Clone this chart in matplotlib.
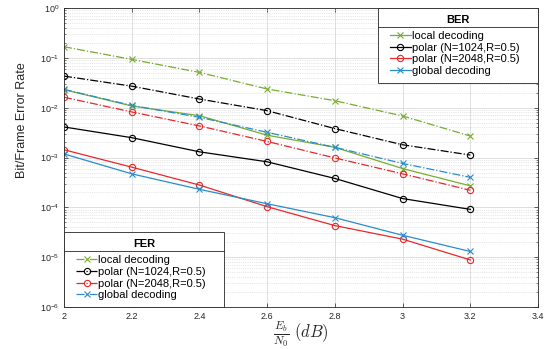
import matplotlib
matplotlib.use("Agg")
import matplotlib.pyplot as plt
from matplotlib.lines import Line2D
from matplotlib.ticker import LogLocator, NullFormatter, FixedLocator, LogFormatterSciNotation
from matplotlib.legend_handler import HandlerLine2D

plt.rcParams['font.family'] = ['Liberation Sans', 'DejaVu Sans']
plt.rcParams['mathtext.fontset'] = 'cm'

ebn0 = [2.0, 2.2, 2.4, 2.6, 2.8, 3.0, 3.2]

# FER (dash-dot)
fer_local = [0.167, 0.093, 0.051, 0.0237, 0.0138, 0.0068, 0.0027]
fer_p1024 = [0.043, 0.027, 0.0149, 0.0087, 0.0038, 0.0018, 0.00112]
fer_p2048 = [0.0162, 0.0082, 0.0043, 0.0021, 0.00098, 0.00047, 0.00022]
fer_global = [0.0233, 0.0111, 0.0064, 0.0032, 0.0016, 0.00076, 0.0004]

# BER (solid)
ber_local = [0.023, 0.0108, 0.0069, 0.0028, 0.0016, 0.0006, 0.00027]
ber_p1024 = [0.0041, 0.0025, 0.0013, 0.00082, 0.00038, 0.00015, 9.1e-5]
ber_p2048 = [0.00143, 0.00064, 0.00028, 0.000103, 4.3e-5, 2.3e-5, 8.8e-6]
ber_global = [0.00118, 0.00047, 0.00023, 0.000118, 6.2e-5, 2.75e-5, 1.3e-5]

labels = ['local decoding', 'polar (N=1024,R=0.5)', 'polar (N=2048,R=0.5)', 'global decoding']
xticks = [2, 2.2, 2.4, 2.6, 2.8, 3, 3.2, 3.4]
xticklabels = ['2', '2.2', '2.4', '2.6', '2.8', '3', '3.2', '3.4']
yticks = [1e-6, 1e-5, 1e-4, 1e-3, 1e-2, 1e-1, 1e0]
colors = ['#77AC30', 'black', '#E8272A', '#2A8CC8']
markers = ['x', 'o', 'o', 'x']

fig = plt.figure(figsize=(5.46, 3.49), dpi=100)
ax = fig.add_axes([64/546, 1-307/349, (538-64)/546, (307-8)/349])

ber_sets = [ber_local, ber_p1024, ber_p2048, ber_global]
fer_sets = [fer_local, fer_p1024, fer_p2048, fer_global]

ber_handles = []
fer_handles = []
for lab, c, m, b, f in zip(labels, colors, markers, ber_sets, fer_sets):
    hb, = ax.semilogy(ebn0, b, color=c, marker=m, linestyle='-', linewidth=0.9,
                      markersize=4.5, markerfacecolor='none', markeredgewidth=0.8, label=lab)
    hf, = ax.semilogy(ebn0, f, color=c, marker=m, linestyle='-.', linewidth=0.9,
                      markersize=4.5, markerfacecolor='none', markeredgewidth=0.8, label=lab)
    ber_handles.append(hb)
    fer_handles.append(hf)

ax.set_xlim(2, 3.4)
ax.set_ylim(1e-6, 1)
ax.xaxis.set_major_locator(FixedLocator(xticks))
ax.set_xticklabels(xticklabels)
ax.yaxis.set_major_locator(FixedLocator(yticks))
ax.yaxis.set_major_formatter(LogFormatterSciNotation())
ax.yaxis.set_minor_locator(LogLocator(base=10, subs=range(2, 10), numticks=20))
ax.yaxis.set_minor_formatter(NullFormatter())

ax.grid(True, which='major', color='#d9d9d9', linewidth=0.6, linestyle='-')
ax.grid(True, which='minor', axis='y', color='#d0d0d0', linewidth=0.5, linestyle=':')
ax.set_axisbelow(True)

ax.tick_params(axis='both', which='both', direction='in', labelsize=6.5, colors='#262626',
               top=True, right=True)
ax.tick_params(axis='both', which='major', length=3, width=0.5)
ax.tick_params(axis='y', which='minor', length=1.5, width=0.4)
for s in ax.spines.values():
    s.set_color('#262626')
    s.set_linewidth(0.6)

ax.set_ylabel('Bit/Frame Error Rate', fontsize=9, color='#262626')
ax.yaxis.set_label_coords(-0.075, 0.625)
ax.set_xlabel(r'$\frac{E_b}{N_0}\ (dB)$', fontsize=12, color='#262626')
ax.xaxis.set_label_coords(0.5, -0.04)

hmap = {h: HandlerLine2D(xpad=0.48) for h in ber_handles + fer_handles}
leg_kw = dict(fontsize=8, frameon=True, fancybox=False, edgecolor='#262626',
              handlelength=2.37, handletextpad=0.1, borderpad=0.6, labelspacing=0.15,
              framealpha=1, title_fontproperties={'weight': 'bold', 'size': 8},
              mode='expand', handler_map=hmap, borderaxespad=0)
leg1 = ax.legend(handles=ber_handles, labels=labels, title='BER', loc='upper right',
                 bbox_to_anchor=(0.662, 0, 0.338, 1), **leg_kw)
leg1.get_frame().set_linewidth(0.6)
ax.add_artist(leg1)
leg2 = ax.legend(handles=fer_handles, labels=labels, title='FER', loc='lower left',
                 bbox_to_anchor=(0, 0, 0.3376, 1), **leg_kw)
leg2.get_frame().set_linewidth(0.6)
for lg in (leg1, leg2):
    lg._legend_box.sep = 4.5

fig.canvas.draw()
inv = fig.transFigure.inverted()
for lg in (leg1, leg2):
    fb = lg.get_frame().get_window_extent()
    tb = lg.get_title().get_window_extent()
    y = tb.y0 - 2
    (x0, yy), (x1, _) = inv.transform([(fb.x0, y), (fb.x1, y)])
    fig.add_artist(Line2D([x0, x1], [yy, yy], color='#262626', linewidth=0.6,
                          transform=fig.transFigure))

fig.savefig('out.png', dpi=100)
